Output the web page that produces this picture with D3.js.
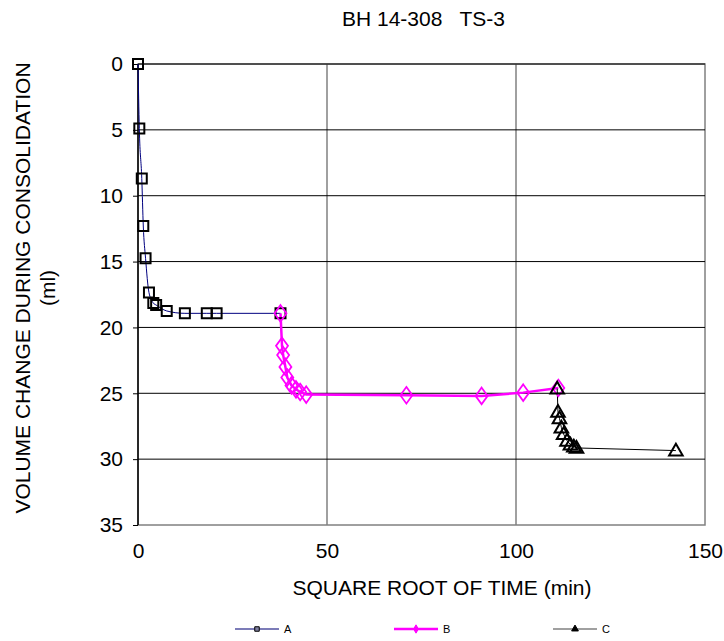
<!DOCTYPE html>
<meta charset="utf-8">
<style>
  body { margin: 0; background: #fff; }
  text { font-family: "Liberation Sans", Arial, sans-serif; fill: #000; }
</style>
<div id="chart"></div>
<script src="https://cdn.jsdelivr.net/npm/d3@7"></script>
<script>

// data: [square root of time (min), volume change (ml)]
var seriesA = [[0, 0], [0.35, 4.9], [1.0, 8.7], [1.4, 12.3], [2.0, 14.75], [2.9, 17.35],
  [4.05, 18.15], [4.8, 18.3], [7.6, 18.75], [12.4, 18.93], [18.2, 18.93], [20.8, 18.93], [37.7, 18.93]];
var seriesB = [[37.7, 18.93], [38.1, 21.4], [38.4, 22.1], [39.0, 23.0], [39.5, 23.8], [40.6, 24.4],
  [41.8, 24.7], [42.9, 24.9], [44.5, 25.1], [71.0, 25.15], [90.9, 25.2], [101.9, 24.95], [111.2, 24.6]];
var seriesC = [[110.9, 24.65], [111.1, 26.4], [111.5, 26.9], [112.0, 27.6], [112.6, 28.1], [113.5, 28.6],
  [114.4, 28.9], [115.3, 29.05], [116.0, 29.15], [142.3, 29.35]];
var seriesNames = ["A", "B", "C"];
var xTicks = [0, 50, 100, 150];
var yTicks = [0, 5, 10, 15, 20, 25, 30, 35];

var width = 724, height = 641;

var svg = d3.select("#chart").append("svg")
    .attr("width", width)
    .attr("height", height);

var x = d3.scaleLinear().domain([0, 150]).range([138, 705]);
var y = d3.scaleLinear().domain([0, 35]).range([64, 525]);

// title
svg.append("text")
    .attr("x", 342)
    .attr("y", 26)
    .attr("xml:space", "preserve")
    .style("font-size", "21px")
    .text("BH 14-308   TS-3");

// plot border
svg.append("rect")
    .attr("x", x(0))
    .attr("y", y(0))
    .attr("width", x(150) - x(0))
    .attr("height", y(35) - y(0))
    .attr("fill", "none")
    .attr("stroke", "#808080")
    .attr("stroke-width", 1.5);

// gridlines
svg.append("g").selectAll("line")
  .data([50, 100])
  .enter().append("line")
    .attr("x1", d => x(d)).attr("x2", d => x(d))
    .attr("y1", y(0)).attr("y2", y(35))
    .attr("stroke", "#808080")
    .attr("stroke-width", 1.5);

svg.append("g").selectAll("line")
  .data(yTicks.filter(d => d < 35))
  .enter().append("line")
    .attr("x1", x(0)).attr("x2", x(150))
    .attr("y1", d => y(d)).attr("y2", d => y(d))
    .attr("stroke", "#000")
    .attr("stroke-width", 1);

// axes
var yAxis = svg.append("g")
    .attr("transform", "translate(" + x(0) + ",0)")
    .call(d3.axisLeft(y).tickValues(yTicks).tickSize(5).tickPadding(10));
yAxis.select(".domain").remove();
yAxis.selectAll("line").attr("stroke", "#000");
yAxis.selectAll("text").style("font-size", "21px").style("font-family", "Liberation Sans, Arial, sans-serif");

svg.append("line")
    .attr("x1", x(0)).attr("x2", x(0))
    .attr("y1", y(0)).attr("y2", y(35))
    .attr("stroke", "#000")
    .attr("stroke-width", 1.5);

var xAxis = svg.append("g")
    .attr("transform", "translate(0," + y(35) + ")")
    .call(d3.axisBottom(x).tickValues(xTicks).tickSize(0).tickPadding(18));
xAxis.select(".domain").remove();
xAxis.selectAll("text").style("font-size", "21px").style("font-family", "Liberation Sans, Arial, sans-serif");

// axis titles
svg.append("text")
    .attr("text-anchor", "middle")
    .attr("x", 442)
    .attr("y", 595)
    .style("font-size", "21px")
    .text("SQUARE ROOT OF TIME (min)");

var yt = svg.append("text")
    .attr("text-anchor", "middle")
    .attr("transform", "translate(30,288) rotate(-90)")
    .style("font-size", "21px");
yt.append("tspan").attr("x", 0).attr("dy", 0).text("VOLUME CHANGE DURING CONSOLIDATION");
yt.append("tspan").attr("x", 0).attr("dy", 25).text("(ml)");

// series
var lineA = d3.line().x(d => x(d[0])).y(d => y(d[1])).curve(d3.curveMonotoneX);
var lineB = d3.line().x(d => x(d[0])).y(d => y(d[1]));

svg.append("path")
    .datum(seriesA)
    .attr("d", lineA)
    .attr("fill", "none")
    .attr("stroke", "#000080")
    .attr("stroke-width", 1);

svg.append("path")
    .datum(seriesB)
    .attr("d", lineB)
    .attr("fill", "none")
    .attr("stroke", "#ff00ff")
    .attr("stroke-width", 2.5);

svg.append("path")
    .datum(seriesC)
    .attr("d", lineB)
    .attr("fill", "none")
    .attr("stroke", "#000")
    .attr("stroke-width", 1);

var sq = d3.symbol().type(d3.symbolSquare).size(100);
var dm = d3.symbol().type(d3.symbolDiamond).size(80);
var tr = d3.symbol().type(d3.symbolTriangle).size(80);

svg.append("g").selectAll("path")
  .data(seriesA)
  .enter().append("path")
    .attr("d", sq)
    .attr("transform", d => "translate(" + x(d[0]) + "," + y(d[1]) + ")")
    .attr("fill", "none")
    .attr("stroke", "#000")
    .attr("stroke-width", 2);

svg.append("g").selectAll("path")
  .data(seriesB)
  .enter().append("path")
    .attr("d", dm)
    .attr("transform", d => "translate(" + x(d[0]) + "," + y(d[1]) + ") scale(1.25,1)")
    .attr("fill", "none")
    .attr("stroke", "#ff00ff")
    .attr("stroke-width", 1.5);

svg.append("g").selectAll("path")
  .data(seriesC)
  .enter().append("path")
    .attr("d", tr)
    .attr("transform", d => "translate(" + x(d[0]) + "," + (y(d[1]) + 1) + ")")
    .attr("fill", "none")
    .attr("stroke", "#000")
    .attr("stroke-width", 2);

// legend
var legendColors = ["#5050a0", "#ff00ff", "#808080"];
var legendWidths = [1.5, 2.5, 1.5];
var legendSyms = [d3.symbolSquare, d3.symbolDiamond, d3.symbolTriangle];

var lg = svg.append("g").selectAll("g")
  .data(seriesNames)
  .enter().append("g")
    .attr("transform", (d, i) => "translate(" + (235 + i * 159) + ",629)");

lg.append("line")
    .attr("x1", 0).attr("x2", 44)
    .attr("stroke", (d, i) => legendColors[i])
    .attr("stroke-width", (d, i) => legendWidths[i]);

lg.append("path")
    .attr("d", (d, i) => d3.symbol().type(legendSyms[i]).size(20)())
    .attr("transform", "translate(22,0)")
    .attr("fill", (d, i) => i === 0 ? "#8080a0" : (i === 1 ? "#ff00ff" : "#000"))
    .attr("stroke", (d, i) => i === 1 ? "#ff00ff" : "#000")
    .attr("stroke-width", 1);

lg.append("text")
    .attr("x", 49)
    .attr("y", 4)
    .style("font-size", "11px")
    .text(d => d);
</script>
